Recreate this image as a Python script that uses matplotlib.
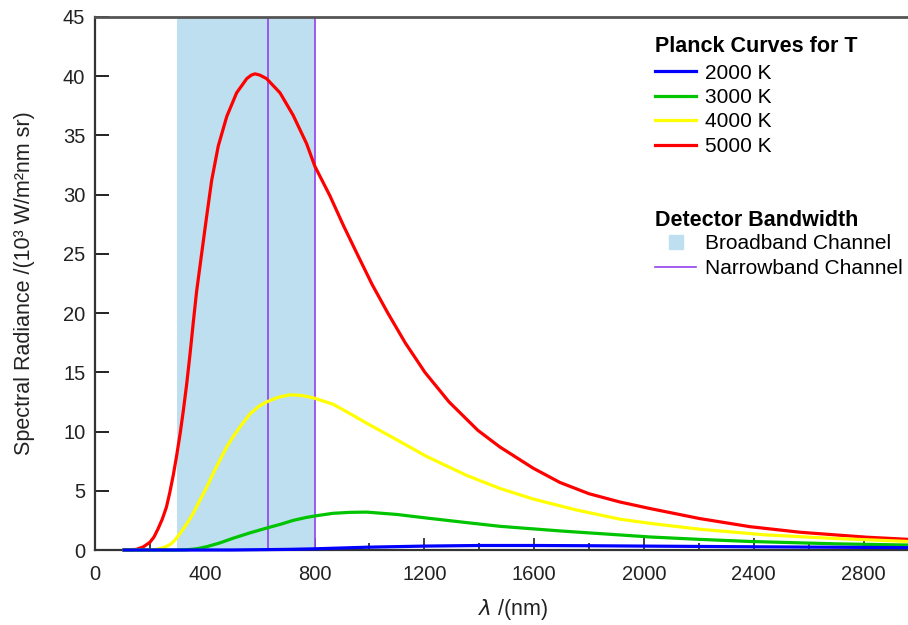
import matplotlib
matplotlib.use("Agg")
import matplotlib.pyplot as plt
from matplotlib.lines import Line2D
from matplotlib.ticker import MultipleLocator

plt.rcParams['font.family'] = ['Liberation Sans', 'DejaVu Sans']
plt.rcParams['mathtext.fontset'] = 'dejavusans'

# values
wl_2000 = [100, 500, 700, 800, 900, 1000, 1200, 1400, 1600, 1800, 2000, 2400, 2800, 2962]
rad_2000 = [0, 0.0, 0.05, 0.1, 0.17, 0.24, 0.33, 0.38, 0.38, 0.36, 0.33, 0.27, 0.22, 0.2]

wl_3000 = [100, 300, 334, 370, 407, 455, 504, 565, 625, 680, 722, 770, 808, 868, 930, 990,
           1100, 1208, 1340, 1475, 1700, 1913, 2022, 2200, 2386, 2700, 2962]
rad_3000 = [0, 0.0, 0.02, 0.1, 0.28, 0.6, 1.0, 1.45, 1.85, 2.2, 2.5, 2.75, 2.9, 3.1, 3.18, 3.2,
            3.0, 2.7, 2.35, 2.0, 1.6, 1.27, 1.1, 0.9, 0.72, 0.52, 0.42]

wl_4000 = [100, 200, 225, 250, 273, 290, 310, 334, 358, 382, 407, 431, 455, 480, 504, 535, 565,
           595, 625, 668, 710, 752, 795, 868, 930, 990, 1100, 1208, 1354, 1475, 1597, 1750,
           1913, 2022, 2204, 2447, 2690, 2962]
rad_4000 = [0, 0.0, 0.06, 0.2, 0.45, 0.8, 1.4, 2.2, 3.1, 4.2, 5.3, 6.5, 7.6, 8.7, 9.6, 10.6, 11.5,
            12.1, 12.5, 12.9, 13.1, 13.05, 12.85, 12.3, 11.5, 10.7, 9.3, 7.9, 6.3, 5.2, 4.3, 3.4,
            2.6, 2.25, 1.75, 1.27, 0.98, 0.72]

wl_5000 = [100, 150, 175, 200, 215, 230, 245, 260, 272, 285, 297, 310, 322, 334, 346, 358, 370,
           389, 407, 425, 449, 480, 516, 553, 570, 583, 600, 625, 674, 722, 771, 801, 856, 905, 955,
           1010, 1067, 1130, 1202, 1290, 1395, 1475, 1597, 1694, 1800, 1913, 2022, 2204,
           2386, 2568, 2811, 2962]
rad_5000 = [0, 0.05, 0.25, 0.65, 1.1, 1.8, 2.6, 3.6, 4.8, 6.3, 7.9, 9.8, 11.8, 14.0, 16.5, 19.2, 21.8,
            25.1, 28.2, 31.2, 34.1, 36.6, 38.6, 39.8, 40.1, 40.2, 40.1, 39.8, 38.6, 36.7, 34.3, 32.4,
            29.9, 27.4, 25.0, 22.4, 20.0, 17.5, 15.0, 12.5, 10.1, 8.7, 6.9, 5.7, 4.75, 4.05, 3.5, 2.65,
            1.97, 1.5, 1.08, 0.9]

broadband = (300, 800)
narrowband = [630, 800]

curve_labels = ['2000 K', '3000 K', '4000 K', '5000 K']
curve_colors = ['#0000FF', '#00C400', '#FFFF00', '#FF0000']
band_colors = ['#BEDFEF', '#9440EE']

fig = plt.figure(figsize=(9.08, 6.25), dpi=100)
ax = fig.add_axes([95 / 908, 75 / 625, 1 - 95 / 908, 533 / 625])

ax.axvspan(broadband[0], broadband[1], color=band_colors[0], lw=0, zorder=1.6)
for x in narrowband:
    ax.axvline(x, color=band_colors[1], lw=1.2, zorder=2)

series = [(wl_2000, rad_2000), (wl_3000, rad_3000), (wl_4000, rad_4000), (wl_5000, rad_5000)]
zs = [6, 5, 4, 3]
for (wl, rad), c, z in zip(series, curve_colors, zs):
    ax.plot(wl, rad, color=c, lw=2.3, zorder=z, clip_on=False,
            solid_capstyle='butt', solid_joinstyle='round')

ax.set_xlim(0, 2962)
ax.set_ylim(0, 45)
ax.xaxis.set_major_locator(MultipleLocator(400))
ax.xaxis.set_minor_locator(MultipleLocator(200))
ax.yaxis.set_major_locator(MultipleLocator(5))

ax.spines['right'].set_visible(False)
for s in ['left', 'bottom']:
    ax.spines[s].set_color('#333333')
    ax.spines[s].set_linewidth(1.6)
ax.spines['top'].set_color('#555555')
ax.spines['top'].set_linewidth(2)

ax.tick_params(axis='y', direction='in', length=10, width=1.4, color='#222222',
               labelsize=14.5, pad=7, labelcolor='#222222')
ax.tick_params(axis='x', which='major', direction='in', length=9, width=1.2, color='#222222',
               labelsize=14.5, pad=11, labelcolor='#222222')
ax.tick_params(axis='x', which='minor', direction='in', length=5, width=1.2, color='#222222')

ax.set_ylabel('Spectral Radiance /(10³ W/m²nm sr)', fontsize=15.5, color='#222222')
ax.set_xlabel(r'$\lambda$ /(nm)', fontsize=15.5, color='#222222')
ax.yaxis.set_label_coords(-60 / 813, 0.5)
ax.xaxis.set_label_coords((513 - 95) / 813, -47 / 533)

h1 = [Line2D([], [], color=c, lw=2.3) for c in curve_colors]
leg1 = ax.legend(h1, curve_labels, title='Planck Curves for T', loc='upper left',
                 bbox_to_anchor=(645 / 908, 1 - 26 / 625), bbox_transform=fig.transFigure,
                 frameon=False, fontsize=15, borderpad=0, labelspacing=0.26,
                 handlelength=1.95, handletextpad=0.45, alignment='left',
                 title_fontproperties={'weight': 'bold', 'size': 15.5})
leg1._legend_box.sep = 4.5
ax.add_artist(leg1)

h2 = [Line2D([], [], marker='s', ms=10.5, color=band_colors[0], ls='none'),
      Line2D([], [], color=band_colors[1], lw=1.2)]
leg2 = ax.legend(h2, ['Broadband Channel', 'Narrowband Channel'], title='Detector Bandwidth',
                 loc='upper left', bbox_to_anchor=(645 / 908, 1 - 200 / 625),
                 bbox_transform=fig.transFigure, frameon=False, fontsize=15, borderpad=0,
                 labelspacing=0.3, handlelength=1.95, handletextpad=0.45, alignment='left',
                 title_fontproperties={'weight': 'bold', 'size': 15.5})
leg2._legend_box.sep = 2

fig.savefig('out.png', dpi=100)
